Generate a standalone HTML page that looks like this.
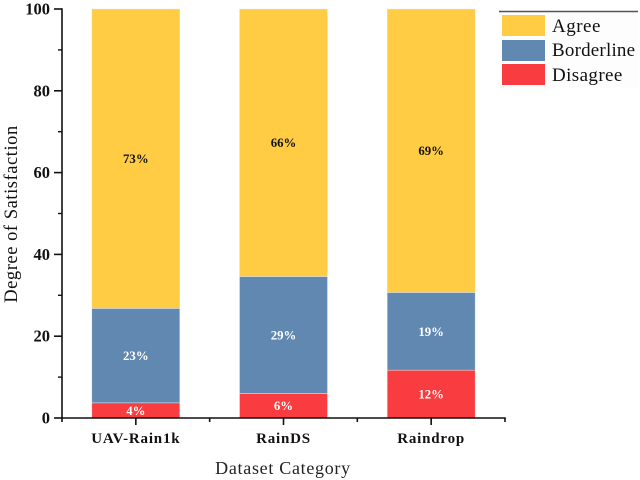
<!DOCTYPE html>
<html>
<head>
<meta charset="utf-8">
<style>
html,body{margin:0;padding:0;background:#fff;width:640px;height:480px;overflow:hidden}
svg{display:block;font-family:"Liberation Serif",serif}
</style>
</head>
<body>
<svg id="chart" xmlns="http://www.w3.org/2000/svg" width="640" height="480" viewBox="0 0 640 480">
  <g id="bars"></g>
  <g id="axes"></g>
  <text transform="translate(17 214) rotate(-90)" text-anchor="middle" font-size="18.5" letter-spacing="0.55" fill="#111">Degree of Satisfaction</text>
  <text x="283" y="474" text-anchor="middle" font-size="18" letter-spacing="0.7" fill="#222">Dataset Category</text>
  <g>
    <rect x="499" y="12" width="139" height="76" fill="#fdfdfd"/>
    <line x1="499" y1="11.5" x2="638" y2="11.5" stroke="#555" stroke-width="1.4"/>
    <rect x="502" y="15" width="43" height="21" fill="#ffcc44"/>
    <text x="552" y="32" font-size="19" letter-spacing="0.5" fill="#111">Agree</text>
    <rect x="502" y="40" width="43" height="21" fill="#6088b0"/>
    <text x="552" y="56" font-size="19" letter-spacing="0.2" fill="#111">Borderline</text>
    <rect x="502" y="64" width="43" height="21" fill="#f93c3f"/>
    <text x="552" y="81" font-size="19" letter-spacing="0.4" fill="#111">Disagree</text>
  </g>
</svg>
<script>
const categories = ["UAV-Rain1k", "RainDS", "Raindrop"];
const disagree = [3.7, 6.0, 11.7];
const borderline = [23.1, 28.6, 19.0];
const agree = [73.2, 65.4, 69.3];
const disagreeLabels = ["4%", "6%", "12%"];
const borderlineLabels = ["23%", "29%", "19%"];
const agreeLabels = ["73%", "66%", "69%"];
const yTicks = [0, 20, 40, 60, 80, 100];
const yMinorTicks = [10, 30, 50, 70, 90];

const NS = "http://www.w3.org/2000/svg";
const plotLeft = 62, plotRight = 505, plotBottom = 418, plotTop = 9, yMax = 100;
const barWidth = 88;
const bandWidth = (plotRight - plotLeft) / categories.length;
function xCenter(i) { return plotLeft + bandWidth * (i + 0.5); }
function yPos(v) { return plotBottom - (v / yMax) * (plotBottom - plotTop); }
function make(tag, attrs, parent, text) {
  const el = document.createElementNS(NS, tag);
  for (const k in attrs) el.setAttribute(k, attrs[k]);
  if (text !== undefined) el.textContent = text;
  parent.appendChild(el);
  return el;
}
const barsG = document.getElementById("bars");
const axesG = document.getElementById("axes");
const seriesNames = ["disagree", "borderline", "agree"];
const seriesValues = [disagree, borderline, agree];
const seriesLabels = [disagreeLabels, borderlineLabels, agreeLabels];
const seriesColors = ["#f93c3f", "#6088b0", "#ffcc44"];
const labelColors = ["#ffffff", "#ffffff", "#111111"];

categories.forEach(function (cat, i) {
  let base = 0;
  seriesValues.forEach(function (vals, s) {
    const top = base + vals[i];
    const rect = make("rect", {
      x: xCenter(i) - barWidth / 2,
      y: yPos(top),
      width: barWidth,
      height: yPos(base) - yPos(top),
      fill: seriesColors[s],
      stroke: "#e8e8e8",
      "stroke-width": 0.5
    }, barsG);
    
    
    const label = make("text", {
      x: xCenter(i),
      y: yPos((base + top) / 2) + 4.5,
      "text-anchor": "middle",
      "font-size": 12.8,
      "font-weight": "bold",
      fill: labelColors[s]
    }, barsG, seriesLabels[s][i]);
    
    
    base = top;
  });
  const catLabel = make("text", {
    x: xCenter(i),
    y: 443,
    "text-anchor": "middle",
    "font-size": 15,
    "font-weight": "bold",
    "letter-spacing": 0.8,
    fill: "#111"
  }, axesG, cat);
  
  
  const majorTick = make("line", {
    x1: xCenter(i), x2: xCenter(i), y1: plotBottom, y2: plotBottom + 7,
    stroke: "#111", "stroke-width": 1.6
  }, axesG);
  
  
});

for (let i = 0; i <= categories.length; i++) {
  const bx = plotLeft + bandWidth * i;
  const minorTick = make("line", {
    x1: bx, x2: bx, y1: plotBottom, y2: plotBottom + 4,
    stroke: "#111", "stroke-width": 1.6
  }, axesG);
  
  
}

yTicks.forEach(function (v) {
  const tick = make("line", {
    x1: plotLeft - 8, x2: plotLeft, y1: yPos(v), y2: yPos(v),
    stroke: "#111", "stroke-width": 1.6
  }, axesG);
  
  
  const label = make("text", {
    x: 50,
    y: yPos(v) + 5.5,
    "text-anchor": "end",
    "font-size": 16.5,
    "font-weight": "bold",
    fill: "#111"
  }, axesG, String(v));
  
  
});

yMinorTicks.forEach(function (v) {
  const tick = make("line", {
    x1: plotLeft - 4, x2: plotLeft, y1: yPos(v), y2: yPos(v),
    stroke: "#111", "stroke-width": 1.4
  }, axesG);
  
  
});

const yAxisLine = make("line", {
  x1: plotLeft, x2: plotLeft, y1: plotTop - 0.8, y2: plotBottom + 0.8,
  stroke: "#111", "stroke-width": 1.6
}, axesG);


const xAxisLine = make("line", {
  x1: plotLeft - 0.8, x2: plotRight + 0.8, y1: plotBottom, y2: plotBottom,
  stroke: "#111", "stroke-width": 1.6
}, axesG);


</script>
</body>
</html>
